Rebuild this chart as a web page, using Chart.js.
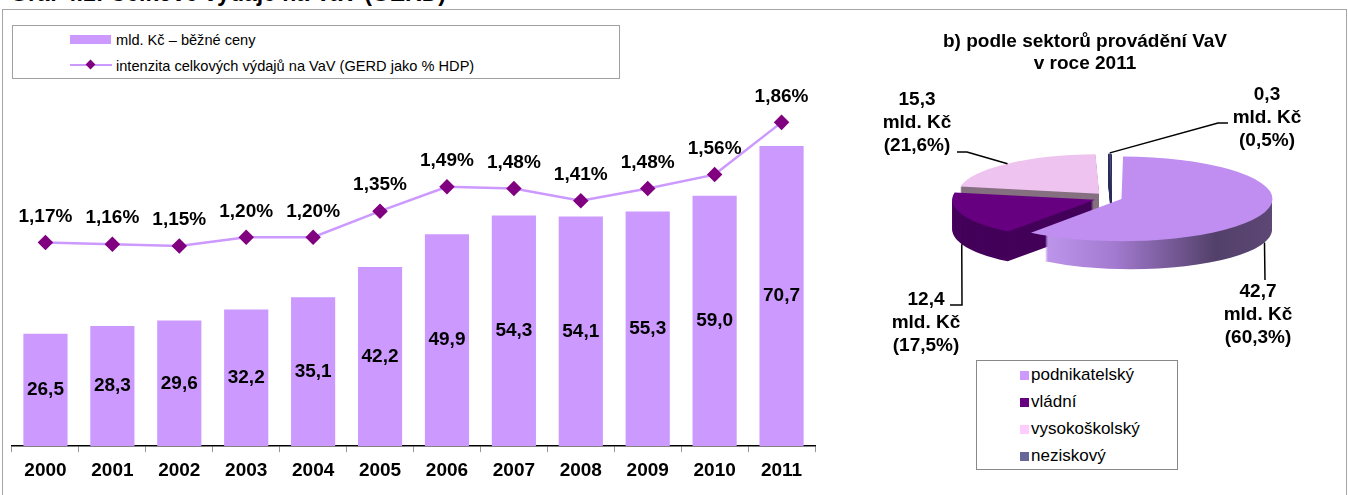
<!DOCTYPE html>
<html>
<head>
<meta charset="utf-8">
<script src="https://cdn.jsdelivr.net/npm/chart.js@4.4.0/dist/chart.umd.min.js"></script>
<style>
  body { margin: 0; width: 1348px; height: 495px; overflow: hidden; background: #fff; position: relative;
         font-family: "Liberation Sans", Arial, sans-serif; color: #000; }
  .abs { position: absolute; }
  #frame { left: 2px; top: 9px; width: 1343px; height: 520px; border: 1px solid #a6a6a6; }
  #caption { left: 10px; top: -20px; font-weight: bold; font-size: 23px; white-space: nowrap; line-height: normal; }
  #barWrap { left: 3px; top: 10px; width: 842px; height: 485px; }
  #pieWrap { left: 850px; top: 10px; width: 495px; height: 485px; }
  #legend1 { left: 12px; top: 25px; width: 606px; height: 52px; border: 1px solid #a0a0a0; background: #fff; font-size: 14.6px; }
  #legend2 { left: 976px; top: 360px; width: 200px; height: 108px; border: 1px solid #888; background: #fff; font-size: 17px; }
  .row { position: absolute; white-space: nowrap; line-height: 20px; height: 20px; }
  .sw { position: absolute; }
  #pieTitle { left: 885px; top: 30px; width: 400px; text-align: center; font-weight: bold; font-size: 19px; line-height: 22px; }
</style>
</head>
<body>
<div id="frame" class="abs"></div>
<div id="caption" class="abs">Graf 4.1: Celkové výdaje na VaV (GERD)</div>
<div id="barWrap" class="abs"><canvas id="barChart"></canvas></div>
<div id="pieWrap" class="abs"><canvas id="pieChart"></canvas></div>
<div id="legend1" class="abs"></div>
<div id="pieTitle" class="abs">b) podle sektorů provádění VaV<br>v roce 2011</div>
<div id="legend2" class="abs"></div>
<script>
// --- data ---
const years = ['2000', '2001', '2002', '2003', '2004', '2005', '2006', '2007', '2008', '2009', '2010', '2011'];
const gerdBn = [26.5, 28.3, 29.6, 32.2, 35.1, 42.2, 49.9, 54.3, 54.1, 55.3, 59.0, 70.7];
const gerdPct = [1.17, 1.16, 1.15, 1.20, 1.20, 1.35, 1.49, 1.48, 1.41, 1.48, 1.56, 1.86];
const barLabel = 'mld. Kč – běžné ceny';
const lineLabel = 'intenzita celkových výdajů na VaV (GERD jako % HDP)';

const sectors = ['podnikatelský', 'vládní', 'vysokoškolský', 'neziskový'];
const sectorBn = [42.7, 12.4, 15.3, 0.3];
const sectorPct = [60.3, 17.5, 21.6, 0.5];

const FONT = '"Liberation Sans", Arial, sans-serif';
const czech = (v, d) => v.toFixed(d).replace('.', ',');

// --- left chart ---
const valueLabels = {
  id: 'valueLabels',
  afterDatasetsDraw(chart) {
    const ctx = chart.ctx;
    ctx.save();
    ctx.font = 'bold 19px ' + FONT;
    ctx.fillStyle = '#000';
    ctx.textAlign = 'center';
    ctx.textBaseline = 'middle';
    chart.data.datasets.forEach((ds, i) => {
      const meta = chart.getDatasetMeta(i);
      meta.data.forEach((el, j) => {
        if (meta.type === 'bar') {
          ctx.fillText(czech(ds.data[j], 1), el.x, (el.y + el.base) / 2);
        } else {
          ctx.fillText(czech(ds.data[j], 2) + '%', el.x, el.y - 26);
        }
      });
    });
    ctx.restore();
  }
};

new Chart(document.getElementById('barChart'), {
  data: {
    labels: years,
    datasets: [{
      type: 'line',
      label: lineLabel,
      data: gerdPct,
      yAxisID: 'y1',
      borderColor: '#CC99FF',
      borderWidth: 2.5,
      pointStyle: 'rectRot',
      pointRadius: 6,
      pointBackgroundColor: '#800080',
      pointBorderColor: '#800080',
      tension: 0
    }, {
      type: 'bar',
      label: barLabel,
      data: gerdBn,
      yAxisID: 'y',
      backgroundColor: '#CC99FF',
      borderWidth: 0,
      barPercentage: 0.66,
      categoryPercentage: 1.0
    }]
  },
  options: {
    responsive: true,
    maintainAspectRatio: false,
    animation: false,
    events: [],
    layout: { padding: { left: 9, right: 30, top: 88, bottom: 6 } },
    plugins: { legend: { display: false }, tooltip: { enabled: false } },
    scales: {
      x: {
        grid: { drawOnChartArea: false, drawTicks: true, tickLength: 6, color: '#999' },
        border: { display: true, color: '#000', width: 1.5 },
        ticks: { color: '#000', padding: 7, font: { family: FONT, size: 19, weight: 'bold' } }
      },
      y: { display: false, min: 0, max: 82 },
      y1: { display: false, min: 0, max: 2 }
    }
  },
  plugins: [valueLabels]
});

// left legend
const legend1 = document.getElementById('legend1');
legend1.innerHTML =
  '<div class="sw" style="left:57px;top:9px;width:41px;height:9px;background:#CC99FF"></div>' +
  '<div class="row" style="left:103px;top:4px">' + barLabel + '</div>' +
  '<div class="sw" style="left:57px;top:38px;width:42px;height:2px;background:#CC99FF"></div>' +
  '<div class="sw" style="left:74px;top:35px;width:7px;height:7px;background:#800080;transform:rotate(45deg)"></div>' +
  '<div class="row" style="left:103px;top:30px">' + lineLabel + '</div>';

// --- pie chart (3D look) ---
const topColors = ['#BF8EF0', '#660080', '#EEC3F0', '#5F5F9A'];
const sideColors = [null, '#44005A', '#857080', '#2E2E5C'];
const legendColors = ['#CC99FF', '#660080', '#FFCCFF', '#666699'];
const SQUASH = 0.28;
const DEPTH = 30;

function sliceShift(arc) {
  const off = (arc.options.offset || 0) / 4;
  const circ = arc.endAngle - arc.startAngle;
  const fix = 1 - Math.sin(Math.min(Math.PI, circ));
  return off * (1 + fix);
}
function slicePath(ctx, arc) {
  const mid = (arc.startAngle + arc.endAngle) / 2;
  const s = sliceShift(arc);
  const x = arc.x + Math.cos(mid) * s;
  const y = arc.y + Math.sin(mid) * s;
  ctx.beginPath();
  ctx.moveTo(x, y);
  ctx.arc(x, y, arc.outerRadius, arc.startAngle, arc.endAngle);
  ctx.closePath();
}

// label placement: leader line elbow/end and text centre (canvas px)
const pieLabelLayout = [
  { bottom: true, pts: [[415, 270]], text: [408, 282] },
  { bottom: true, pts: [[112, 295], [100, 295]], text: [76, 290] },
  { bottom: false, pts: [[117, 142], [107, 142]], text: [67, 90] },
  { bottom: false, pts: [[368, 113], [378, 113]], text: [417, 85] }
];

const pie3d = {
  id: 'pie3d',
  beforeDatasetsDraw(chart) {
    const ctx = chart.ctx;
    const arcs = chart.getDatasetMeta(0).data;
    const cx = arcs[0].x, cy = arcs[0].y, r = arcs[0].outerRadius;
    const grad = ctx.createLinearGradient(cx - r * 0.6, 0, cx + r + 25, 0);
    grad.addColorStop(0, '#C49CF2');
    grad.addColorStop(0.35, '#A27ACF');
    grad.addColorStop(0.75, '#53406A');
    grad.addColorStop(1, '#5E4876');
    for (let d = DEPTH; d > 0; d--) {
      ctx.save();
      ctx.translate(0, cy + d);
      ctx.scale(1, SQUASH);
      ctx.translate(0, -cy);
      arcs.forEach((arc, i) => {
        slicePath(ctx, arc);
        ctx.fillStyle = i === 0 ? grad : sideColors[i];
        ctx.fill();
      });
      ctx.restore();
    }
    ctx.save();
    ctx.translate(0, cy);
    ctx.scale(1, SQUASH);
    ctx.translate(0, -cy);
  },
  afterDatasetsDraw(chart) {
    chart.ctx.restore();
  },
  afterDraw(chart) {
    const ctx = chart.ctx;
    const arcs = chart.getDatasetMeta(0).data;
    ctx.save();
    ctx.strokeStyle = '#000';
    ctx.lineWidth = 1.5;
    ctx.font = 'bold 19px ' + FONT;
    ctx.fillStyle = '#000';
    ctx.textAlign = 'center';
    ctx.textBaseline = 'middle';
    arcs.forEach((arc, i) => {
      const L = pieLabelLayout[i];
      const mid = (arc.startAngle + arc.endAngle) / 2;
      const s = sliceShift(arc) + arc.outerRadius;
      const ax = arc.x + Math.cos(mid) * s;
      const ay = arc.y + Math.sin(mid) * s * SQUASH + (L.bottom ? DEPTH : 0);
      ctx.beginPath();
      ctx.moveTo(ax, ay);
      L.pts.forEach(p => ctx.lineTo(p[0], p[1]));
      ctx.stroke();
      const lines = [czech(sectorBn[i], 1), 'mld. Kč', '(' + czech(sectorPct[i], 1) + '%)'];
      lines.forEach((t, k) => ctx.fillText(t, L.text[0], L.text[1] + k * 23));
    });
    ctx.restore();
  }
};

new Chart(document.getElementById('pieChart'), {
  type: 'pie',
  data: {
    labels: sectors,
    datasets: [{
      data: sectorBn,
      backgroundColor: topColors,
      borderWidth: 0,
      offset: [40, 72, 78, 41],
      radius: 141,
      clip: false
    }]
  },
  options: {
    responsive: true,
    maintainAspectRatio: false,
    animation: false,
    events: [],
    layout: { padding: { left: 60, right: 31, top: 20, bottom: 129 } },
    plugins: { legend: { display: false }, tooltip: { enabled: false } }
  },
  plugins: [pie3d]
});

// pie legend
const legend2 = document.getElementById('legend2');
legend2.innerHTML = sectors.map((s, i) =>
  '<div class="sw" style="left:43px;top:' + (10 + i * 27) + 'px;width:9px;height:9px;background:' + legendColors[i] + '"></div>' +
  '<div class="row" style="left:54px;top:' + (4 + i * 27) + 'px">' + s + '</div>'
).join('');
</script>
</body>
</html>
